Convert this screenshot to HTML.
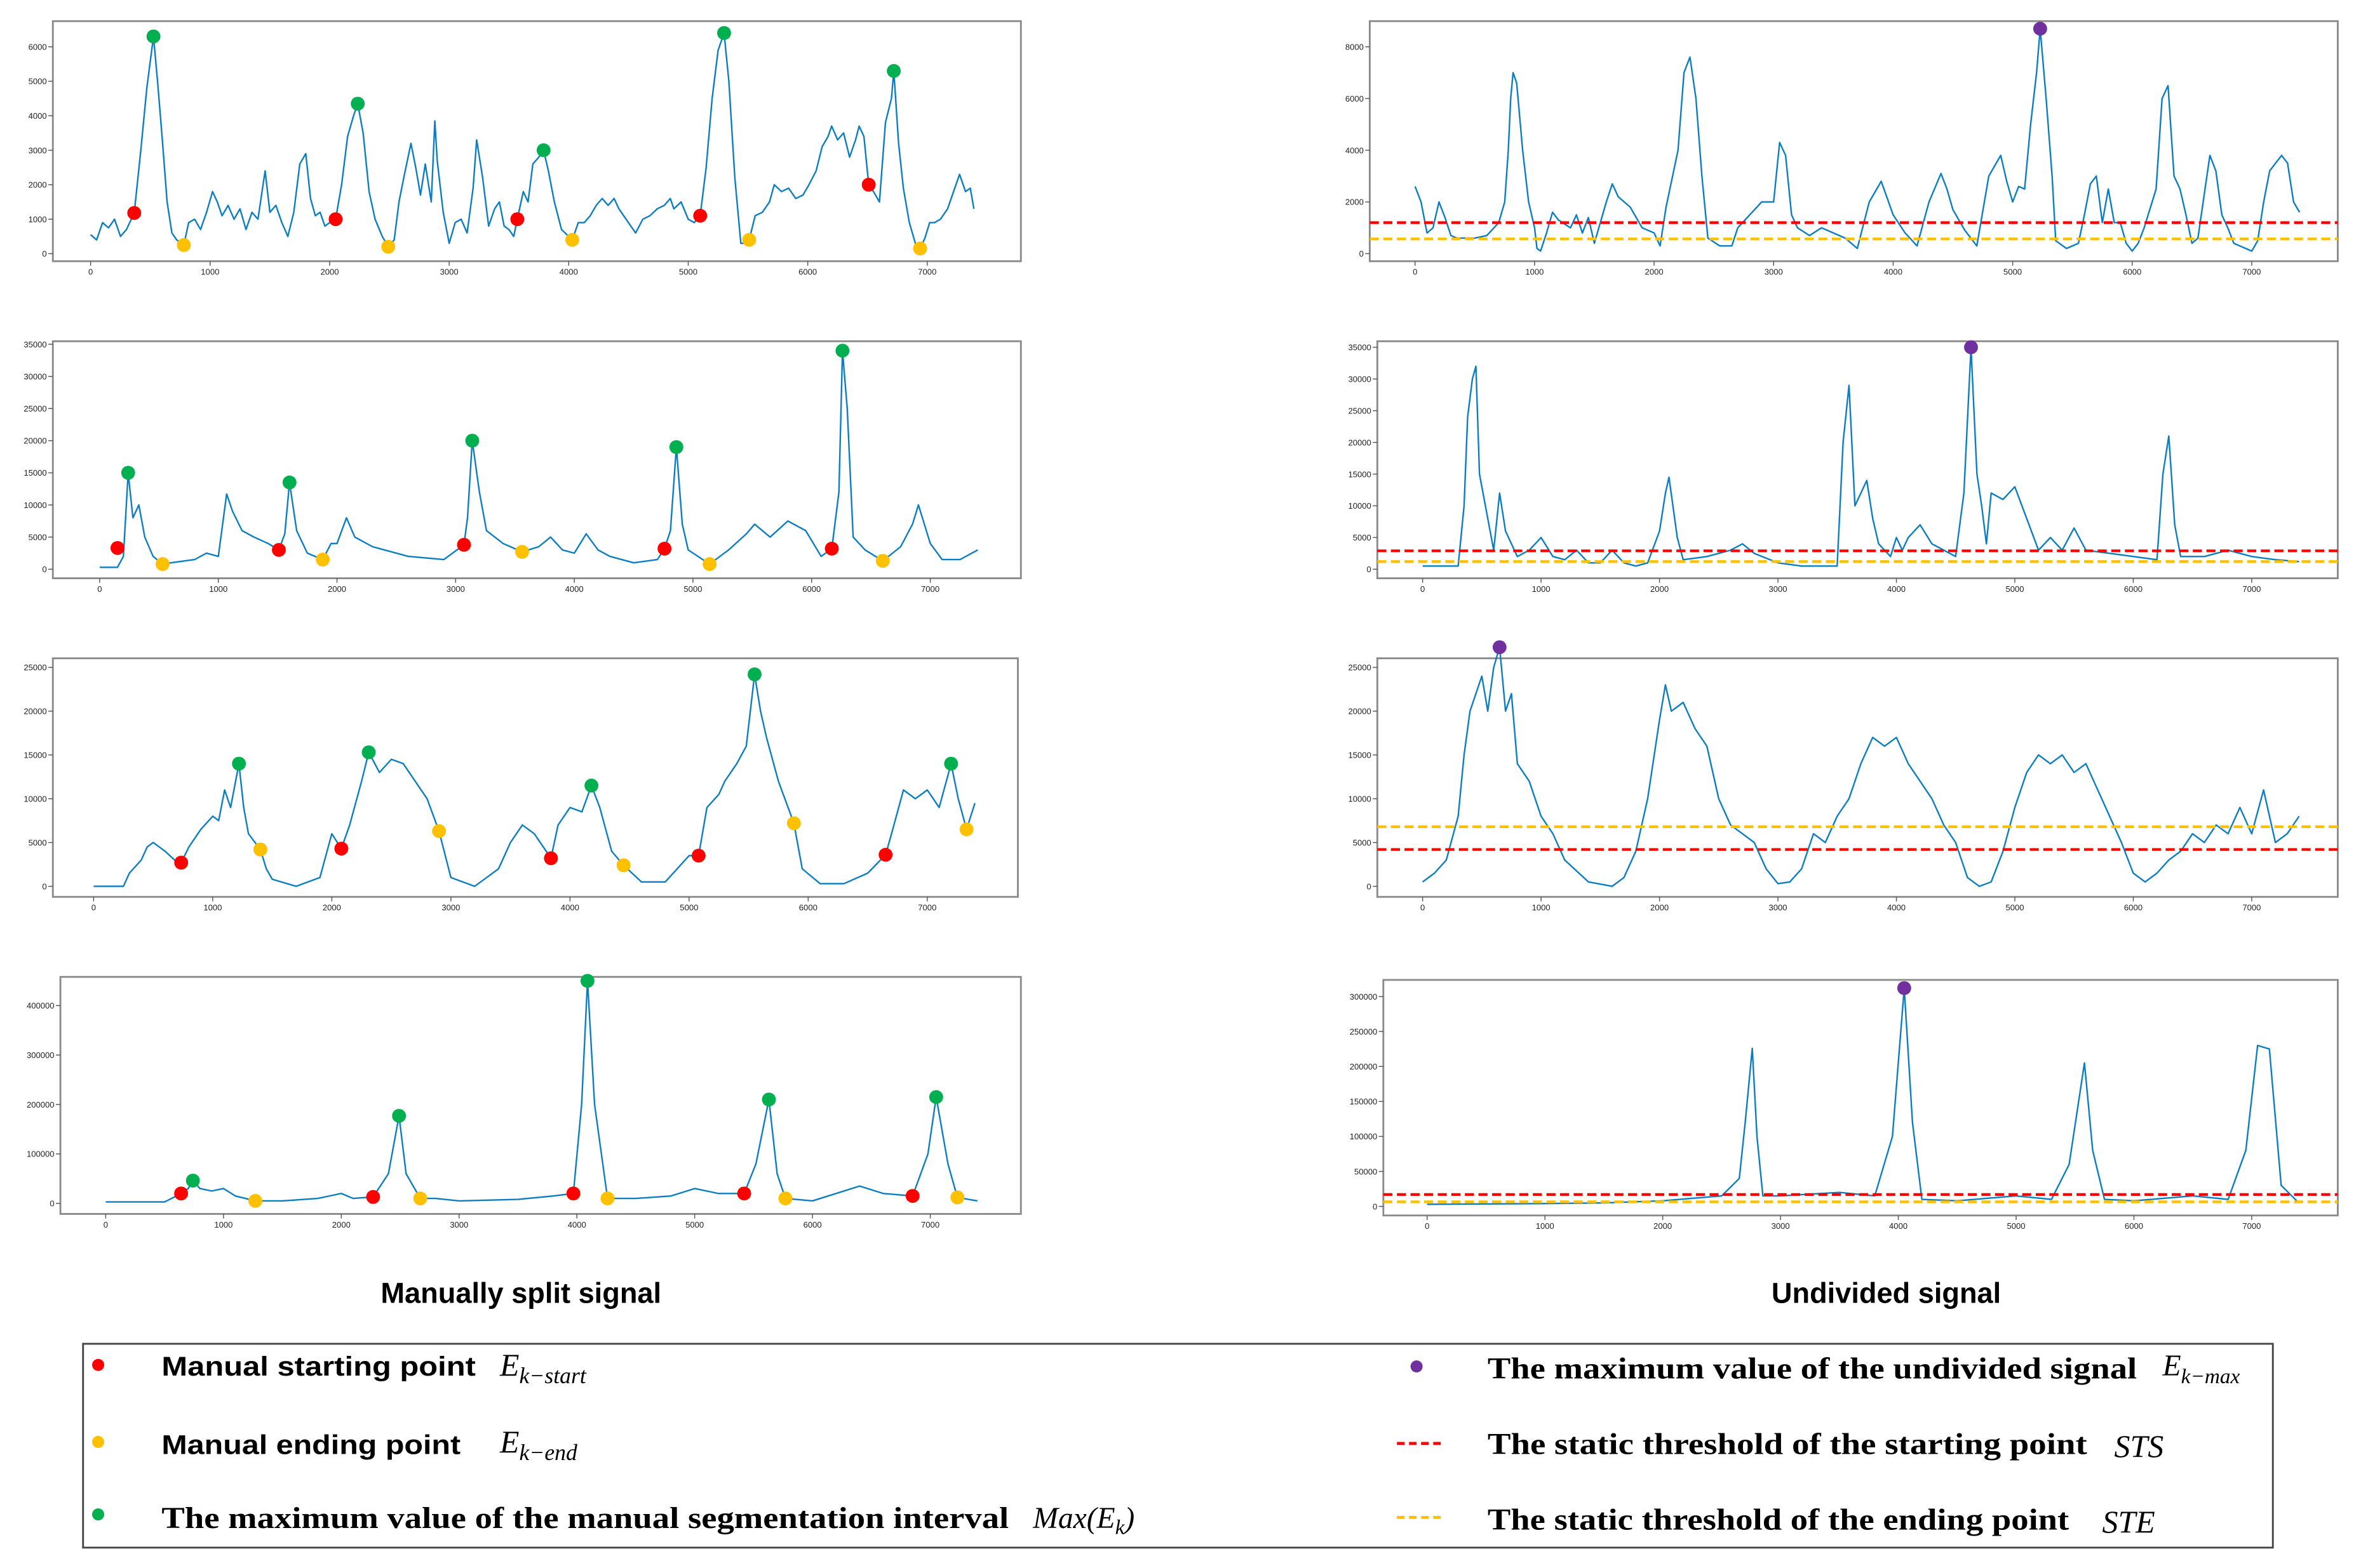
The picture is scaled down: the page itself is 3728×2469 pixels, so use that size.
<!DOCTYPE html>
<html><head><meta charset="utf-8"><style>
html,body{margin:0;padding:0;background:#fff;}
svg{display:block;}
</style></head><body>
<svg id="fig" xmlns="http://www.w3.org/2000/svg" width="3728" height="2469" viewBox="0 0 1568 1038.5" preserveAspectRatio="none" font-family="'Liberation Sans', sans-serif">
<rect x="0" y="0" width="1568" height="1038.5" fill="#fff"/>
<g id="panels"></g>
<text x="345" y="863" text-anchor="middle" font-size="19" font-weight="bold">Manually split signal</text>
<text x="1249" y="863" text-anchor="middle" font-size="19" font-weight="bold">Undivided signal</text>
<g>
<rect x="55" y="890" width="1450" height="135" fill="#fff" stroke="#444" stroke-width="1.2"/>
<g>
<circle cx="65" cy="904" r="4" fill="#ff0000"/>
<text x="107" y="911" font-size="18" font-weight="bold" textLength="208" lengthAdjust="spacingAndGlyphs">Manual starting point</text>
<text x="331" y="911" font-family="'Liberation Serif', serif" font-style="italic" font-size="21">E<tspan font-size="15" dy="5">k−start</tspan></text>
</g>
<g>
<circle cx="65" cy="955" r="4" fill="#ffc000"/>
<text x="107" y="963" font-size="18" font-weight="bold" textLength="198" lengthAdjust="spacingAndGlyphs">Manual ending point</text>
<text x="331" y="962" font-family="'Liberation Serif', serif" font-style="italic" font-size="21">E<tspan font-size="15" dy="5">k−end</tspan></text>
</g>
<g>
<circle cx="65" cy="1003" r="4" fill="#00b050"/>
<text x="107" y="1012" font-family="'Liberation Serif', serif" font-size="20" font-weight="bold" textLength="561" lengthAdjust="spacingAndGlyphs">The maximum value of the manual segmentation interval</text>
<text x="684" y="1012" font-family="'Liberation Serif', serif" font-style="italic" font-size="20">Max(E<tspan font-size="14" dy="4">k</tspan><tspan dy="-4">)</tspan></text>
</g>
<g>
<circle cx="938" cy="905" r="4" fill="#7030a0"/>
<text x="985" y="913" font-family="'Liberation Serif', serif" font-size="20" font-weight="bold" textLength="430" lengthAdjust="spacingAndGlyphs">The maximum value of the undivided signal</text>
<text x="1432" y="911" font-family="'Liberation Serif', serif" font-style="italic" font-size="20">E<tspan font-size="14" dy="5">k−max</tspan></text>
</g>
<g>
<line x1="925" y1="956" x2="957" y2="956" stroke="#ff0000" stroke-width="2" stroke-dasharray="5,3"/>
<text x="985" y="963" font-family="'Liberation Serif', serif" font-size="20" font-weight="bold" textLength="397" lengthAdjust="spacingAndGlyphs">The static threshold of the starting point</text>
<text x="1400" y="965" font-family="'Liberation Serif', serif" font-style="italic" font-size="21">STS</text>
</g>
<g>
<line x1="925" y1="1005" x2="957" y2="1005" stroke="#ffc000" stroke-width="2" stroke-dasharray="5,3"/>
<text x="985" y="1013" font-family="'Liberation Serif', serif" font-size="20" font-weight="bold" textLength="385" lengthAdjust="spacingAndGlyphs">The static threshold of the ending point</text>
<text x="1392" y="1015" font-family="'Liberation Serif', serif" font-style="italic" font-size="21">STE</text>
</g>
</g>
</svg>
<script>
// ---- data: each signal as [sample index, value] ----
const sigL1 = [[0,550],[50,400],[100,900],[150,750],[200,1000],[250,500],[300,700],[365,1180],[420,3000],[470,4800],[500,5600],[526,6300],[560,5000],[600,3300],[640,1500],[680,600],[720,400],[780,250],[820,900],[870,1000],[920,700],[970,1200],[1020,1800],[1060,1500],[1100,1100],[1150,1400],[1200,1000],[1250,1300],[1300,700],[1350,1200],[1400,1000],[1460,2400],[1500,1200],[1550,1400],[1600,900],[1650,500],[1700,1200],[1750,2600],[1800,2900],[1840,1600],[1880,1100],[1920,1200],[1960,800],[2000,900],[2050,1000],[2100,2000],[2150,3400],[2200,4000],[2235,4350],[2280,3500],[2330,1800],[2380,1000],[2440,500],[2490,200],[2540,400],[2580,1500],[2620,2200],[2680,3200],[2720,2500],[2760,1700],[2800,2600],[2850,1500],[2880,3850],[2900,2700],[2950,1200],[3000,300],[3050,900],[3100,1000],[3150,600],[3200,1900],[3230,3300],[3280,2200],[3330,800],[3380,1300],[3420,1500],[3460,800],[3500,700],[3540,500],[3570,1000],[3620,1800],[3660,1500],[3700,2600],[3750,2800],[3790,3000],[3830,2400],[3880,1500],[3940,700],[4000,500],[4030,400],[4080,900],[4130,900],[4180,1100],[4230,1400],[4280,1600],[4330,1400],[4380,1600],[4420,1300],[4480,1000],[4540,700],[4560,600],[4620,1000],[4680,1100],[4740,1300],[4800,1400],[4850,1600],[4880,1300],[4940,1500],[5000,1000],[5050,900],[5100,1100],[5150,2500],[5200,4500],[5250,5900],[5300,6400],[5340,5000],[5390,2200],[5440,300],[5490,300],[5510,400],[5560,1100],[5620,1200],[5680,1500],[5720,2000],[5780,1800],[5840,1900],[5900,1600],[5960,1700],[6010,2000],[6070,2400],[6120,3100],[6170,3400],[6200,3700],[6250,3300],[6300,3500],[6350,2800],[6400,3300],[6430,3700],[6470,3400],[6510,2000],[6550,1800],[6600,1500],[6650,3800],[6700,4500],[6720,5300],[6760,3200],[6800,1900],[6850,900],[6900,300],[6940,150],[6980,450],[7020,900],[7060,900],[7110,1000],[7170,1300],[7220,1800],[7270,2300],[7320,1800],[7360,1900],[7390,1300]];
const startL1 = [[365,1180],[2050,1000],[3570,1000],[5100,1100],[6510,2000]];
const endL1 = [[780,250],[2490,200],[4030,400],[5510,400],[6940,150]];
const maxL1 = [[526,6300],[2235,4350],[3790,3000],[5300,6400],[6720,5300]];

const sigL2 = [[0,300],[150,300],[200,2000],[240,15000],[280,8000],[330,10000],[380,5000],[450,2000],[530,800],[600,1000],[800,1500],[900,2500],[1000,2000],[1070,11700],[1120,9000],[1200,6000],[1300,5000],[1420,4000],[1510,3000],[1560,5500],[1600,13500],[1660,6000],[1750,2500],[1880,1500],[1950,4000],[2000,4000],[2080,8000],[2150,5000],[2300,3500],[2400,3000],[2600,2000],[2900,1500],[3070,3800],[3100,8000],[3140,20000],[3200,12000],[3260,6000],[3400,4000],[3560,2700],[3700,3500],[3800,5000],[3900,3000],[4000,2500],[4100,5500],[4200,3000],[4300,2000],[4500,1000],[4700,1500],[4760,3200],[4810,6000],[4860,19000],[4910,7000],[4960,3000],[5140,800],[5300,3000],[5450,5500],[5520,7000],[5650,5000],[5800,7500],[5950,6000],[6080,2000],[6170,3200],[6230,12000],[6260,34000],[6300,25000],[6350,5000],[6450,3000],[6600,1300],[6750,3500],[6850,7000],[6900,10000],[7000,4000],[7100,1500],[7250,1500],[7400,3000]];
const startL2 = [[240-90,3300],[1510,3000],[3070,3800],[4760,3200],[6170,3200]];
const endL2 = [[530,800],[1880,1500],[3560,2700],[5140,800],[6600,1300]];
const maxL2 = [[240,15000],[1600,13500],[3140,20000],[4860,19000],[6260,34000]];

const sigL3 = [[0,0],[250,0],[300,1500],[400,3000],[450,4500],[500,5000],[600,4000],[680,3000],[735,2700],[800,4500],[900,6500],[1000,8000],[1050,7500],[1100,11000],[1150,9000],[1220,14000],[1260,9000],[1300,6000],[1400,4200],[1450,2000],[1500,800],[1700,0],[1900,1000],[2000,6000],[2080,4300],[2150,7000],[2250,12000],[2310,15300],[2400,13000],[2500,14500],[2600,14000],[2700,12000],[2800,10000],[2900,6300],[3000,1000],[3200,0],[3400,2000],[3500,5000],[3600,7000],[3700,6000],[3840,3200],[3900,7000],[4000,9000],[4100,8500],[4180,11500],[4250,9000],[4350,4000],[4450,2400],[4600,500],[4800,500],[5000,3500],[5080,3500],[5150,9000],[5250,10500],[5300,12000],[5400,14000],[5480,16000],[5550,24200],[5600,20000],[5650,17000],[5750,12000],[5880,7200],[5950,2000],[6100,300],[6300,300],[6500,1500],[6650,3600],[6700,6000],[6800,11000],[6900,10000],[7000,11000],[7100,9000],[7200,14000],[7260,10000],[7330,6500],[7400,9500]];
const startL3 = [[735,2700],[2080,4300],[3840,3200],[5080,3500],[6650,3600]];
const endL3 = [[1400,4200],[2900,6300],[4450,2400],[5880,7200],[7330,6500]];
const maxL3 = [[1220,14000],[2310,15300],[4180,11500],[5550,24200],[7200,14000]];

const sigL4 = [[0,3000],[500,3000],[600,15000],[640,20000],[700,30000],[740,46000],[800,30000],[900,25000],[1000,30000],[1100,15000],[1270,5000],[1500,5000],[1800,10000],[2000,20000],[2100,10000],[2270,13000],[2400,60000],[2490,177000],[2550,60000],[2670,10000],[2800,10000],[3000,5000],[3500,8000],[3800,15000],[3970,20000],[4040,200000],[4090,450000],[4150,200000],[4260,10000],[4500,10000],[4800,15000],[5000,30000],[5200,20000],[5420,20000],[5520,80000],[5630,210000],[5700,60000],[5770,10000],[6000,5000],[6400,35000],[6600,20000],[6850,15000],[6980,100000],[7050,215000],[7150,80000],[7230,12000],[7400,5000]];
const startL4 = [[640,20000],[2270,13000],[3970,20000],[5420,20000],[6850,15000]];
const endL4 = [[1270,5000],[2670,10000],[4260,10000],[5770,10000],[7230,12000]];
const maxL4 = [[740,46000],[2490,177000],[4090,450000],[5630,210000],[7050,215000]];

const sigR1 = [[0,2600],[50,2000],[100,800],[150,1000],[200,2000],[250,1400],[300,700],[350,600],[500,600],[600,700],[700,1200],[750,2000],[780,4000],[800,6000],[820,7000],[850,6600],[900,4000],[950,2000],[1000,1000],[1020,200],[1050,100],[1100,800],[1150,1600],[1200,1300],[1300,1000],[1350,1500],[1400,800],[1450,1400],[1500,400],[1600,2000],[1650,2700],[1700,2200],[1800,1800],[1900,1000],[2000,800],[2050,300],[2100,1800],[2200,4000],[2250,7000],[2300,7600],[2350,6000],[2400,3000],[2450,600],[2550,300],[2650,300],[2700,1000],[2800,1500],[2900,2000],[3000,2000],[3050,4300],[3100,3800],[3150,1500],[3200,1000],[3300,700],[3400,1000],[3450,900],[3600,600],[3700,200],[3800,2000],[3900,2800],[4000,1500],[4100,800],[4200,300],[4300,2000],[4400,3100],[4450,2500],[4500,1700],[4600,900],[4700,300],[4800,3000],[4900,3800],[4950,2800],[5000,2000],[5050,2600],[5100,2500],[5150,5000],[5200,7000],[5230,8700],[5280,6000],[5330,3000],[5360,500],[5450,200],[5550,400],[5600,1500],[5650,2700],[5700,3000],[5750,1200],[5800,2500],[5850,1200],[5900,1200],[5950,400],[6000,100],[6050,400],[6100,1000],[6200,2500],[6250,6000],[6300,6500],[6350,3000],[6400,2500],[6450,1500],[6500,400],[6550,600],[6600,2200],[6650,3800],[6700,3200],[6750,1500],[6800,1000],[6850,400],[6900,300],[6950,200],[7000,100],[7050,500],[7100,2000],[7150,3200],[7200,3500],[7250,3800],[7300,3500],[7350,2000],[7400,1600]];
const maxR1 = [[5230,8700]];
const thrR1 = [1200, 570];

const sigR2 = [[0,500],[300,500],[350,10000],[380,24000],[420,30000],[450,32000],[480,15000],[550,8000],[600,3000],[650,12000],[700,6000],[800,2000],[900,3000],[1000,5000],[1100,2000],[1200,1500],[1300,3000],[1400,1000],[1500,1000],[1600,3000],[1700,1000],[1800,500],[1900,1000],[2000,6000],[2050,12000],[2080,14500],[2150,5000],[2200,1500],[2400,2000],[2600,3000],[2700,4000],[2800,2500],[3000,1000],[3200,500],[3500,500],[3550,20000],[3600,29000],[3650,10000],[3700,12000],[3750,14000],[3800,8000],[3850,4000],[3950,2000],[4000,5000],[4050,3000],[4100,5000],[4200,7000],[4300,4000],[4400,3000],[4500,2000],[4570,12000],[4630,35000],[4680,15000],[4720,10000],[4760,4000],[4800,12000],[4900,11000],[5000,13000],[5100,8000],[5200,3000],[5300,5000],[5400,3000],[5500,6500],[5600,3000],[5800,2500],[6000,2000],[6200,1500],[6250,15000],[6300,21000],[6350,7000],[6400,2000],[6600,2000],[6800,3000],[7000,2000],[7200,1500],[7400,1200]];
const maxR2 = [[4630,35000]];
const thrR2 = [2900, 1200];

const sigR3 = [[0,500],[100,1500],[200,3000],[300,8000],[350,15000],[400,20000],[500,24000],[550,20000],[600,25000],[650,27300],[700,20000],[750,22000],[800,14000],[900,12000],[1000,8000],[1100,6000],[1200,3000],[1400,500],[1600,0],[1700,1000],[1800,4000],[1900,10000],[2000,19000],[2050,23000],[2100,20000],[2200,21000],[2300,18000],[2400,16000],[2500,10000],[2600,7000],[2700,6000],[2800,5000],[2900,2000],[3000,300],[3100,500],[3200,2000],[3300,6000],[3400,5000],[3500,8000],[3600,10000],[3700,14000],[3800,17000],[3900,16000],[4000,17000],[4100,14000],[4200,12000],[4300,10000],[4400,7000],[4500,5000],[4600,1000],[4700,0],[4800,500],[4900,4000],[5000,9000],[5100,13000],[5200,15000],[5300,14000],[5400,15000],[5500,13000],[5600,14000],[5700,11000],[5800,8000],[5900,5000],[6000,1500],[6100,500],[6200,1500],[6300,3000],[6400,4000],[6500,6000],[6600,5000],[6700,7000],[6800,6000],[6900,9000],[7000,6000],[7100,11000],[7200,5000],[7300,6000],[7400,8000]];
const maxR3 = [[650,27300]];
const thrR3 = [4200, 6800];

const sigR4 = [[0,3000],[1000,4000],[1500,5000],[2000,8000],[2500,15000],[2650,40000],[2700,120000],[2760,226000],[2800,100000],[2850,15000],[3000,15000],[3500,20000],[3800,15000],[3950,100000],[4050,312000],[4120,120000],[4200,10000],[4500,8000],[5000,15000],[5300,10000],[5450,60000],[5580,205000],[5650,80000],[5750,10000],[6000,8000],[6500,15000],[6800,10000],[6950,80000],[7050,230000],[7150,225000],[7250,30000],[7400,5000]];
const maxR4 = [[4050,312000]];
const thrR4 = [17000, 6500];

const xTicks = [0,1000,2000,3000,4000,5000,6000,7000];
const yTicksL1 = [0,1000,2000,3000,4000,5000,6000];
const yTicksL2 = [0,5000,10000,15000,20000,25000,30000,35000];
const yTicksL3 = [0,5000,10000,15000,20000,25000];
const yTicksL4 = [0,100000,200000,300000,400000];
const yTicksR1 = [0,2000,4000,6000,8000];
const yTicksR2 = [0,5000,10000,15000,20000,25000,30000,35000];
const yTicksR3 = [0,5000,10000,15000,20000,25000];
const yTicksR4 = [0,50000,100000,150000,200000,250000,300000];

// ---- layout (display units) ----
const NS = 'http://www.w3.org/2000/svg';
const root = document.getElementById('panels');
function mk(tag, attrs, parent){const e=document.createElementNS(NS,tag);for(const k in attrs)e.setAttribute(k,attrs[k]);parent.appendChild(e);return e;}

function panel(name, box, ax, sig, yTicks, mk1){
  const g = mk('g',{},root);
  
  
  const bg = mk('rect',{x:box[0],y:box[1],width:box[2]-box[0],height:box[3]-box[1],fill:'#fff',stroke:'#8a8a8a','stroke-width':1.2},g);
  
  
  const xs = v => ax.x0 + v*(ax.x7-ax.x0)/7000;
  const ys = v => ax.y0 - v*(ax.y0-ax.yt)/ax.ytv;
  xTicks.forEach(t=>{
    mk('line',{x1:xs(t),x2:xs(t),y1:box[3],y2:box[3]+3,stroke:'#555','stroke-width':0.6},g);
    const tx = mk('text',{x:xs(t),y:box[3]+9,'text-anchor':'middle','font-size':5.5,fill:'#222'},g);
    tx.textContent = t;
    
    
  });
  yTicks.forEach(t=>{
    mk('line',{x1:box[0]-3,x2:box[0],y1:ys(t),y2:ys(t),stroke:'#555','stroke-width':0.6},g);
    const tx = mk('text',{x:box[0]-4,y:ys(t)+2,'text-anchor':'end','font-size':5.5,fill:'#222'},g);
    tx.textContent = t;
    
    
  });
  const pts = sig.map(p=>xs(p[0]).toFixed(2)+','+ys(p[1]).toFixed(2)).join(' ');
  const line = mk('polyline',{points:pts,fill:'none',stroke:'#0b7dc1','stroke-width':1,'stroke-linejoin':'round'},g);
  
  
  if (mk1.thr){
    const cols = ['#ff0000','#ffc000'];
    mk1.thr.forEach((v,i)=>{
      const l = mk('line',{x1:box[0],x2:box[2],y1:ys(v),y2:ys(v),stroke:cols[i],'stroke-width':1.8,'stroke-dasharray':'6,3'},g);
      
      
    });
  }
  const groups = [['start',mk1.start,'#ff0000'],['end',mk1.end,'#ffc000'],['max',mk1.max,'#00b050'],['undivided-max',mk1.umax,'#7030a0']];
  groups.forEach(([n,arr,c])=>{
    if(!arr) return;
    arr.forEach(p=>{
      const c1 = mk('circle',{cx:xs(p[0]),cy:ys(p[1]),r:4.6,fill:c},g);
      
      
    });
  });
}

panel('manual-split-panel-1',[35,14,676,173],{x0:60,x7:614,y0:168,yt:31,ytv:6000},sigL1,yTicksL1,{start:startL1,end:endL1,max:maxL1});
panel('manual-split-panel-2',[35,226,676,383],{x0:66,x7:616,y0:377,yt:228,ytv:35000},sigL2,yTicksL2,{start:startL2,end:endL2,max:maxL2});
panel('manual-split-panel-3',[35,436,674,594],{x0:62,x7:614,y0:587,yt:442,ytv:25000},sigL3,yTicksL3,{start:startL3,end:endL3,max:maxL3});
panel('manual-split-panel-4',[40,647,676,804],{x0:70,x7:616,y0:797,yt:666,ytv:400000},sigL4,yTicksL4,{start:startL4,end:endL4,max:maxL4});
panel('undivided-panel-1',[907,14,1548,173],{x0:937,x7:1491,y0:168,yt:31,ytv:8000},sigR1,yTicksR1,{umax:maxR1,thr:thrR1});
panel('undivided-panel-2',[912,226,1548,383],{x0:942,x7:1491,y0:377,yt:230,ytv:35000},sigR2,yTicksR2,{umax:maxR2,thr:thrR2});
panel('undivided-panel-3',[912,436,1548,594],{x0:942,x7:1491,y0:587,yt:442,ytv:25000},sigR3,yTicksR3,{umax:maxR3,thr:thrR3});
panel('undivided-panel-4',[916,649,1548,805],{x0:945,x7:1491,y0:799,yt:660,ytv:300000},sigR4,yTicksR4,{umax:maxR4,thr:thrR4});
</script>
</body></html>
